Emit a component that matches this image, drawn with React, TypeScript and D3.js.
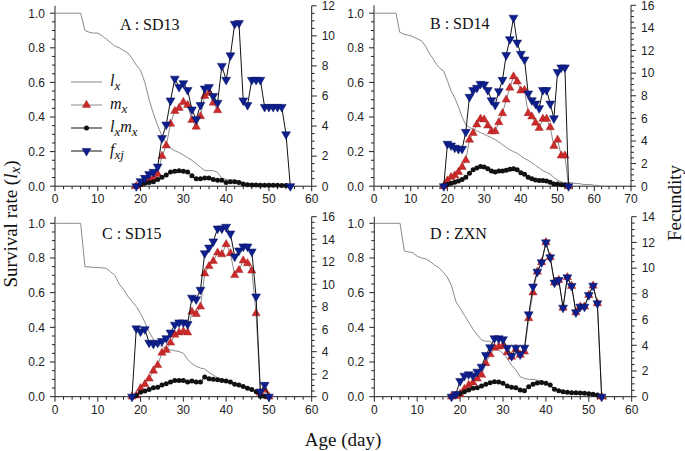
import React from 'react';
import * as d3 from 'd3';

// ---------- Data ----------
// Panel A : SD13
const lxA = [1,1,1,1,1,1,1,0.90,0.89,0.885,0.885,0.87,0.85,0.83,0.81,0.80,0.785,0.77,0.74,0.70,0.67,0.60,0.50,0.42,0.35,0.29,0.25,0.22,0.205,0.195,0.18,0.165,0.15,0.13,0.11,0.09,0.09,0.09,0.08,0.045,0.04,0.035,0.035,0.03,0.02,0.015,0.015,0.015,0.012,0.012,0.01,0.01,0.01,0.01,0.008,0.0];
const fxjStartA = 19;
const fxjA = [0,0.33,0.55,0.8,0.95,1.3,3.2,4.1,5.7,7.15,6.6,6.85,6.4,5.1,4.45,5.4,6.5,6.6,6.0,5.55,8.0,7.07,8.7,10.8,10.85,5.7,5.4,7.07,7.07,7.07,5.27,5.27,5.27,5.27,5.27,3.45,0];
const mxStartA = 19;
const mxA = [0,0.15,0.3,0.45,0.55,0.8,2.0,2.7,4.15,5.0,5.2,5.6,5.4,4.4,3.95,4.65,6.0,6.2,5.55,5.05];
const lxmxStartA = 19;
const lxmxA = [0,0.1,0.2,0.25,0.3,0.45,0.6,0.75,0.95,1.0,1.02,1.0,0.95,0.7,0.5,0.5,0.55,0.55,0.45,0.4,0.4,0.25,0.3,0.3,0.25,0.15,0.1,0.08,0.08,0.07,0.07,0.06,0.06,0.06,0.05,0.04,0];

// Panel B : SD14
const lxB = [1,1,1,1,1,1,1,0.89,0.88,0.875,0.87,0.86,0.85,0.84,0.81,0.77,0.74,0.705,0.68,0.665,0.61,0.55,0.51,0.46,0.40,0.355,0.34,0.33,0.32,0.31,0.30,0.29,0.28,0.27,0.255,0.24,0.225,0.21,0.20,0.19,0.175,0.16,0.15,0.135,0.12,0.105,0.09,0.08,0.07,0.05,0.035,0.025,0.02,0.02,0.02,0.015,0.015,0.01,0.01,0.01,0.005,0.005,0.0];
const fxjStartB = 19;
const fxjB = [0,3.75,3.6,3.4,3.3,3.3,4.8,7.9,8.5,8.7,9.05,9.0,8.5,7.6,7.2,8.4,9.4,11.6,13.0,14.9,12.7,11.7,11.2,8.2,7.6,7.3,6.9,8.5,8.5,7.3,6.0,10.1,10.5,10.5,0];
const mxStartB = 19;
const mxB = [0,0.5,0.8,0.95,1.25,1.7,2.3,4.1,4.7,5.45,5.95,5.9,5.35,4.85,4.85,5.65,6.45,7.65,8.7,9.7,9.25,8.45,8.5,6.45,6.15,5.6,5.15,5.95,5.95,5.2,3.55,4.1,2.7,2.7,0];
const lxmxStartB = 19;
const lxmxB = [0,0.15,0.25,0.35,0.45,0.6,0.8,1.15,1.45,1.6,1.75,1.7,1.55,1.35,1.25,1.35,1.35,1.4,1.5,1.55,1.45,1.2,1.05,0.8,0.65,0.55,0.5,0.5,0.45,0.35,0.2,0.2,0.12,0.1,0];

// Panel C : SD15
const lxC = [1,1,1,1,1,1,1,0.75,0.748,0.746,0.745,0.743,0.74,0.72,0.70,0.65,0.62,0.58,0.55,0.52,0.48,0.43,0.375,0.33,0.30,0.29,0.28,0.27,0.265,0.26,0.25,0.215,0.19,0.175,0.165,0.16,0.14,0.125,0.11,0.10,0.096,0.09,0.077,0.07,0.06,0.048,0.04,0.03,0.012,0.005,0];
const fxjStartC = 18;
const fxjC = [0,6.07,5.8,6.0,4.8,4.7,4.8,4.95,5.2,5.7,6.4,6.6,6.6,6.45,8.8,8.65,9.5,12.75,13.25,13.8,14.95,14.95,15.1,14.5,12.45,13.0,13.35,13.35,12.9,8.9,0.45,1.05,0];
const mxStartC = 18;
const mxC = [0,0.1,0.75,1.1,1.6,2.3,2.8,3.9,4.15,4.8,5.5,5.7,5.8,5.7,7.55,7.35,8.0,10.95,11.6,12.05,12.8,12.65,13.55,12.75,10.8,11.25,12.1,11.85,11.2,7.4,0.35,0.6,0];
const lxmxStartC = 18;
const lxmxC = [0,0.1,0.4,0.5,0.65,0.8,0.85,1.05,1.15,1.3,1.45,1.45,1.45,1.3,1.4,1.3,1.3,1.75,1.6,1.55,1.5,1.45,1.4,1.3,1.1,1.05,0.9,0.75,0.65,0.45,0.05,0.05,0];

// Panel D : ZXN
const lxD = [1,1,1,1,1,1,1,0.84,0.835,0.83,0.81,0.80,0.795,0.78,0.76,0.745,0.72,0.69,0.64,0.55,0.51,0.47,0.43,0.39,0.356,0.327,0.32,0.32,0.29,0.27,0.25,0.22,0.18,0.155,0.115,0.105,0.10,0.10,0.095,0.09,0.075,0.06,0.045,0.035,0.03,0.025,0.02,0.02,0.02,0.02,0.02,0.015,0.01,0.005];
const fxjStartD = 18;
const fxjD = [0,0.2,1.22,1.63,1.74,1.63,1.94,2.33,3.24,3.84,4.54,4.54,4.46,3.81,3.16,3.81,3.29,3.81,6.4,8.56,9.72,10.45,12.0,10.84,8.87,9.07,6.92,9.28,8.61,6.56,7.0,7.0,7.9,8.63,7.26,0];
const mxStartD = 18;
const mxD = [0,0.05,0.2,0.6,0.9,1.1,1.4,1.7,2.6,3.3,3.8,3.9,3.95,3.45,3.1,3.7,3.25,3.5,6.1,8.1,9.72,10.45,12.0,10.84,8.87,9.07,6.92,9.28,8.61,6.56,7.0,7.0,7.9,8.63,7.26,0];
const lxmxStartD = 18;
const lxmxD = [0,0.13,0.25,0.38,0.52,0.65,0.7,0.83,0.96,1.08,1.17,1.14,1.04,0.83,0.73,0.7,0.52,0.47,0.78,0.96,1.06,1.11,1.04,0.91,0.57,0.47,0.38,0.34,0.31,0.31,0.28,0.26,0.23,0.2,0.13,0];

const panelLabels = ['A : SD13', 'B : SD14', 'C : SD15', 'D : ZXN'];
const xMaxes = [60, 70, 60, 60];
const rightMaxes = [12, 16, 16, 14];
const leftTicks = [0, 0.2, 0.4, 0.6, 0.8, 1.0];

// ---------- Styling ----------
const BLUE = '#0d1f8f';
const BLUE_EDGE = '#06105a';
const RED = '#cc2a2a';
const GRAY = '#8a8a8a';
const SANS = 'Liberation Sans, Arial, sans-serif';
const SERIF = 'Liberation Serif, Times New Roman, serif';

const triUp = d3.symbol(d3.symbolTriangle, 30)()!;
const triDown = d3.symbol(d3.symbolTriangle, 34)()!;

type Panel = {
  label: string; lx: number[]; fxjStart: number; fxj: number[]; mxStart: number; mx: number[];
  lxmxStart: number; lxmx: number[]; xMax: number; rMax: number;
  x0: number; x1: number; yBot: number; yOne: number; yTop: number; labelX: number; labelY: number;
};

const layout = [
  { x0: 55, x1: 311.7, yBot: 186.2, yOne: 13.2, yTop: 5.8, labelX: 120, labelY: 30 },
  { x0: 374, x1: 631, yBot: 186.2, yOne: 13.2, yTop: 5.3, labelX: 430, labelY: 29 },
  { x0: 55, x1: 311.7, yBot: 396.7, yOne: 223.3, yTop: 216.7, labelX: 102, labelY: 239 },
  { x0: 374.3, x1: 631.7, yBot: 396.7, yOne: 223.3, yTop: 216.7, labelX: 430, labelY: 239 },
];

const panels: Panel[] = [
  { label: panelLabels[0], lx: lxA, fxjStart: fxjStartA, fxj: fxjA, mxStart: mxStartA, mx: mxA, lxmxStart: lxmxStartA, lxmx: lxmxA, xMax: xMaxes[0], rMax: rightMaxes[0], ...layout[0] },
  { label: panelLabels[1], lx: lxB, fxjStart: fxjStartB, fxj: fxjB, mxStart: mxStartB, mx: mxB, lxmxStart: lxmxStartB, lxmx: lxmxB, xMax: xMaxes[1], rMax: rightMaxes[1], ...layout[1] },
  { label: panelLabels[2], lx: lxC, fxjStart: fxjStartC, fxj: fxjC, mxStart: mxStartC, mx: mxC, lxmxStart: lxmxStartC, lxmx: lxmxC, xMax: xMaxes[2], rMax: rightMaxes[2], ...layout[2] },
  { label: panelLabels[3], lx: lxD, fxjStart: fxjStartD, fxj: fxjD, mxStart: mxStartD, mx: mxD, lxmxStart: lxmxStartD, lxmx: lxmxD, xMax: xMaxes[3], rMax: rightMaxes[3], ...layout[3] },
];

function PanelView({ p, legend }: { p: Panel; legend: boolean }) {
  const x = d3.scaleLinear().domain([0, p.xMax]).range([p.x0, p.x1]);
  const yl = d3.scaleLinear().domain([0, 1]).range([p.yBot, p.yOne]);
  const yr = d3.scaleLinear().domain([0, p.rMax]).range([p.yBot, p.yTop]);
  const leftTop = yl.invert(p.yTop);

  const toPts = (start: number, vals: number[]) => vals.map((v, i) => [start + i, v] as [number, number]);
  const lxPts = toPts(0, p.lx);
  const mxPts = toPts(p.mxStart, p.mx);
  const lxmxPts = toPts(p.lxmxStart, p.lxmx);
  const fxjPts = toPts(p.fxjStart, p.fxj);

  const lineL = d3.line<[number, number]>().x(d => x(d[0])).y(d => yl(d[1]));
  const lineR = d3.line<[number, number]>().x(d => x(d[0])).y(d => yr(d[1]));

  const xMajor = d3.range(0, p.xMax + 0.001, 10);
  const xMinor = d3.range(0, p.xMax + 0.001, 2).filter(v => v % 10 !== 0);
  const lMinor = d3.range(0, leftTop + 0.0001, 0.05).filter(v => Math.abs(Math.round(v * 5) - v * 5) > 0.01);
  const rMajor = d3.range(0, p.rMax + 0.001, 2);
  const rMinor = d3.range(0, p.rMax + 0.001, 0.5).filter(v => v % 2 !== 0);

  const tickStyle = { fontFamily: SANS, fontSize: '12px' };
  const serifStyle = { fontFamily: SERIF, fontSize: '16px' };

  return (
    <g>
      <line x1={p.x0} x2={p.x0} y1={p.yTop} y2={p.yBot} stroke="#222" strokeWidth={1} />
      <line x1={p.x1} x2={p.x1} y1={p.yTop} y2={p.yBot} stroke="#222" strokeWidth={1} />
      <line x1={p.x0} x2={p.x1} y1={p.yBot} y2={p.yBot} stroke="#222" strokeWidth={1} />
      {xMajor.map(v => (
        <g key={'xm' + v}>
          <line x1={x(v)} x2={x(v)} y1={p.yBot} y2={p.yBot + 5} stroke="#222" />
          <text x={x(v)} y={p.yBot + 17} textAnchor="middle" style={tickStyle} fill="#222">{v}</text>
        </g>
      ))}
      {xMinor.map(v => (
        <line key={'xn' + v} x1={x(v)} x2={x(v)} y1={p.yBot} y2={p.yBot + 3} stroke="#222" />
      ))}
      {leftTicks.map(v => (
        <g key={'lm' + v}>
          <line x1={p.x0 - 5} x2={p.x0} y1={yl(v)} y2={yl(v)} stroke="#222" />
          <text x={p.x0 - 10} y={yl(v) + 4.3} textAnchor="end" style={tickStyle} fill="#222">{v.toFixed(1)}</text>
        </g>
      ))}
      {lMinor.map(v => (
        <line key={'ln' + v} x1={p.x0 - 3} x2={p.x0} y1={yl(v)} y2={yl(v)} stroke="#222" />
      ))}
      {rMajor.map(v => (
        <g key={'rm' + v}>
          <line x1={p.x1} x2={p.x1 + 5} y1={yr(v)} y2={yr(v)} stroke="#222" />
          <text x={p.x1 + 10} y={yr(v) + 4.3} textAnchor="start" style={tickStyle} fill="#222">{v}</text>
        </g>
      ))}
      {rMinor.map(v => (
        <line key={'rn' + v} x1={p.x1} x2={p.x1 + 3} y1={yr(v)} y2={yr(v)} stroke="#222" />
      ))}

      <path d={lineL(lxPts)!} fill="none" stroke={GRAY} strokeWidth={1} />
      <path d={lineR(mxPts)!} fill="none" stroke={GRAY} strokeWidth={1} />
      {mxPts.map((d, i) => (
        <path key={'mx' + i} d={triUp} transform={`translate(${x(d[0])},${yr(d[1])})`} fill={RED} stroke="#9a1a1a" strokeWidth={0.4} />
      ))}
      <path d={lineR(lxmxPts)!} fill="none" stroke="#111" strokeWidth={1} />
      {lxmxPts.map((d, i) => (
        <circle key={'lm' + i} cx={x(d[0])} cy={yr(d[1])} r={2.5} fill="#111" />
      ))}
      <path d={lineR(fxjPts)!} fill="none" stroke="#111" strokeWidth={1} />
      {fxjPts.map((d, i) => (
        <path key={'fx' + i} d={triDown} transform={`translate(${x(d[0])},${yr(d[1])}) rotate(180)`} fill={BLUE} stroke={BLUE_EDGE} strokeWidth={0.5} />
      ))}

      <text x={p.labelX} y={p.labelY} style={serifStyle} fill="#111">{p.label}</text>

      {legend && (
        <g>
          {[82, 105, 128, 151].map((yy, i) => (
            <g key={'lg' + i}>
              <line x1={71} x2={102} y1={yy} y2={yy} stroke={i < 2 ? GRAY : '#111'} strokeWidth={1} />
              {i === 1 && <path d={triUp} transform={`translate(86.5,${yy})`} fill={RED} stroke="#9a1a1a" strokeWidth={0.4} />}
              {i === 2 && <circle cx={86.5} cy={yy} r={2.5} fill="#111" />}
              {i === 3 && <path d={triDown} transform={`translate(86.5,${yy}) rotate(180)`} fill={BLUE} stroke={BLUE_EDGE} strokeWidth={0.5} />}
            </g>
          ))}
          <text x={110} y={86} style={{ ...serifStyle, fontStyle: 'italic' }} fill="#111">l<tspan dy={4} style={{ fontSize: '13px' }}>x</tspan></text>
          <text x={110} y={109} style={{ ...serifStyle, fontStyle: 'italic' }} fill="#111">m<tspan dy={4} style={{ fontSize: '13px' }}>x</tspan></text>
          <text x={110} y={132} style={{ ...serifStyle, fontStyle: 'italic' }} fill="#111">l<tspan dy={4} style={{ fontSize: '13px' }}>x</tspan><tspan dy={-4}>m</tspan><tspan dy={4} style={{ fontSize: '13px' }}>x</tspan></text>
          <text x={110} y={155} style={{ ...serifStyle, fontStyle: 'italic' }} fill="#111">f<tspan dy={4} style={{ fontSize: '13px' }}>xj</tspan></text>
        </g>
      )}
    </g>
  );
}

export default function App() {
  const titleStyle = { fontFamily: SERIF, fontSize: '19px' };
  return (
    <svg width={685} height={451} style={{ position: 'absolute', left: 0, top: 0, background: '#fff' }}>
      <rect width={685} height={451} fill="#fff" />
      {panels.map((p, i) => (
        <PanelView key={i} p={p} legend={i === 0} />
      ))}
      <text transform="translate(17,224) rotate(-90)" textAnchor="middle" style={titleStyle} fill="#111">
        Survival rate (<tspan style={{ fontStyle: 'italic' }}>l</tspan><tspan style={{ fontStyle: 'italic', fontSize: '15px' }} dy={3}>x</tspan><tspan dy={-3}>)</tspan>
      </text>
      <text transform="translate(681,203) rotate(-90)" textAnchor="middle" style={titleStyle} fill="#111">Fecundity</text>
      <text x={343} y={446} textAnchor="middle" style={titleStyle} fill="#111">Age (day)</text>
    </svg>
  );
}
